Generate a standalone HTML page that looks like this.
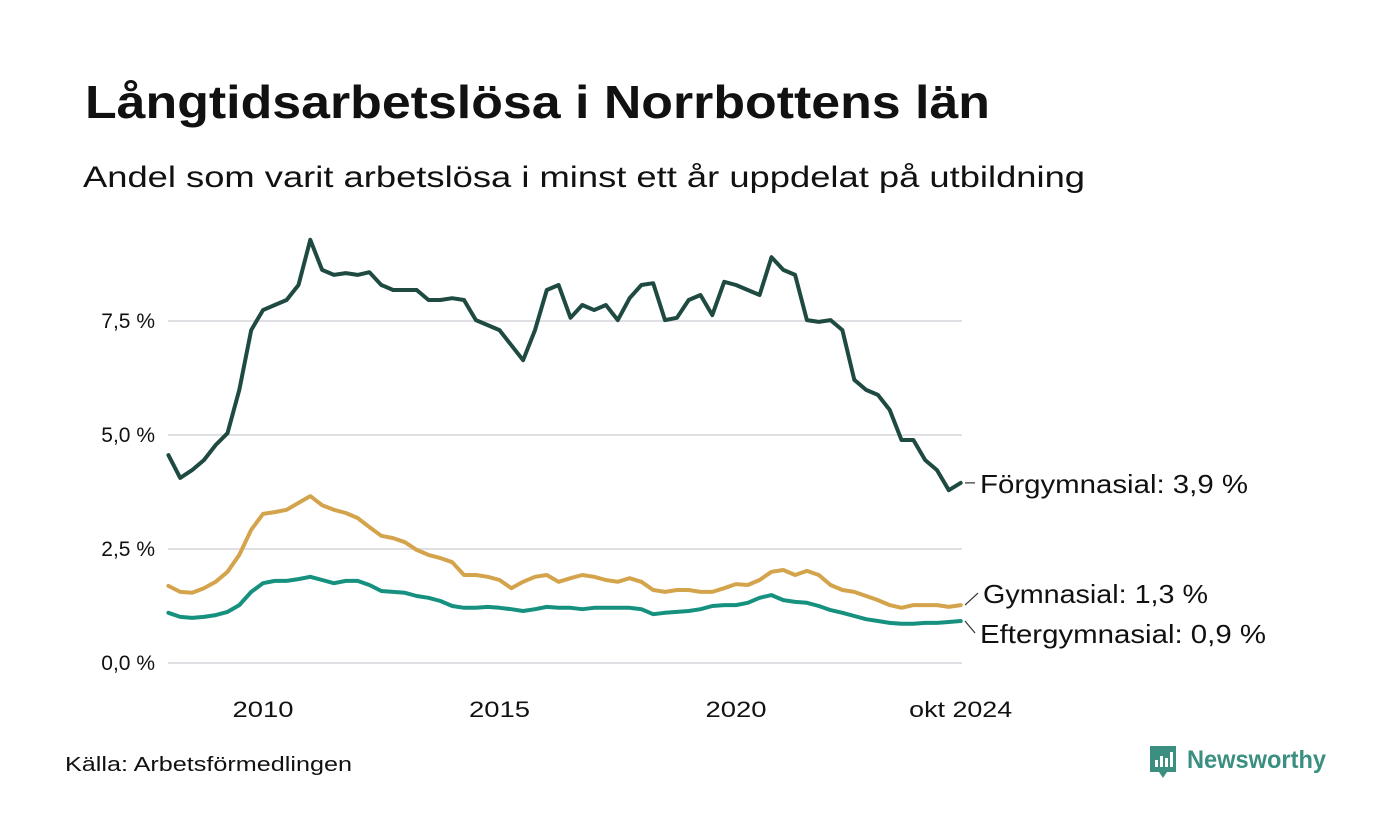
<!DOCTYPE html>
<html><head><meta charset="utf-8"><style>
html,body{margin:0;padding:0;background:#fff;}
svg{display:block;font-family:"Liberation Sans",sans-serif;}
</style></head><body>
<svg id="chart" width="1400" height="840" viewBox="0 0 1400 840" xmlns="http://www.w3.org/2000/svg">
<rect width="1400" height="840" fill="#fff"/>
<text x="85" y="118" font-size="46" font-weight="bold" fill="#111" textLength="905" lengthAdjust="spacingAndGlyphs">Långtidsarbetslösa i Norrbottens län</text>
<text x="83" y="187" font-size="30" fill="#111" textLength="1002" lengthAdjust="spacingAndGlyphs">Andel som varit arbetslösa i minst ett år uppdelat på utbildning</text>
<g id="grid"></g>
<g id="yaxis"></g>
<g id="xaxis"></g>
<g id="lines"></g>
<g id="labels"></g>
<text x="65" y="771" font-size="20" fill="#111" textLength="287" lengthAdjust="spacingAndGlyphs">Källa: Arbetsförmedlingen</text>
<g>
<path d="M1150 746 h26 v26 h-9 l-4 6 l-4 -6 h-9 z" fill="#3a8f80"/>
<rect x="1155" y="760" width="3" height="7" fill="#fff"/>
<rect x="1160" y="756" width="3" height="11" fill="#fff"/>
<rect x="1165" y="758" width="3" height="9" fill="#fff"/>
<rect x="1170" y="752" width="3" height="15" fill="#fff"/>
<text x="1187" y="768" font-size="25" font-weight="bold" fill="#3a8f80" textLength="139" lengthAdjust="spacingAndGlyphs">Newsworthy</text>
</g>
</svg>
<script>
const yTicks = [0, 2.5, 5, 7.5];
const yTickLabels = ["0,0 %", "2,5 %", "5,0 %", "7,5 %"];
const xTicks = [2010, 2015, 2020, 2024.75];
const xTickLabels = ["2010", "2015", "2020", "okt 2024"];
const seriesNames = ["Förgymnasial", "Gymnasial", "Eftergymnasial"];
const endLabels = ["Förgymnasial: 3,9 %", "Gymnasial: 1,3 %", "Eftergymnasial: 0,9 %"];
const forgymnasial = [4.56,4.06,4.23,4.45,4.78,5.04,5.99,7.30,7.74,7.85,7.96,8.29,9.28,8.62,8.51,8.55,8.51,8.57,8.29,8.18,8.18,8.18,7.96,7.96,8.00,7.96,7.52,7.41,7.30,6.97,6.64,7.30,8.18,8.29,7.57,7.85,7.74,7.85,7.52,8.00,8.29,8.33,7.52,7.57,7.96,8.07,7.63,8.36,8.29,8.18,8.07,8.90,8.62,8.51,7.52,7.48,7.52,7.30,6.21,5.99,5.88,5.55,4.89,4.89,4.45,4.23,3.79,3.95];
const gymnasial = [1.69,1.56,1.54,1.64,1.78,2.00,2.37,2.92,3.27,3.31,3.36,3.51,3.66,3.46,3.36,3.29,3.18,2.98,2.79,2.74,2.65,2.48,2.37,2.30,2.21,1.93,1.93,1.89,1.82,1.64,1.78,1.89,1.93,1.78,1.86,1.93,1.89,1.82,1.78,1.86,1.78,1.60,1.56,1.60,1.60,1.56,1.56,1.64,1.73,1.71,1.82,2.00,2.04,1.93,2.02,1.93,1.71,1.60,1.56,1.47,1.38,1.27,1.21,1.27,1.27,1.27,1.23,1.27];
const eftergymnasial = [1.10,1.01,0.99,1.01,1.05,1.12,1.27,1.56,1.75,1.80,1.80,1.84,1.89,1.82,1.75,1.80,1.80,1.71,1.58,1.56,1.54,1.47,1.43,1.36,1.25,1.21,1.21,1.23,1.21,1.18,1.14,1.18,1.23,1.21,1.21,1.18,1.21,1.21,1.21,1.21,1.18,1.07,1.10,1.12,1.14,1.18,1.25,1.27,1.27,1.32,1.43,1.49,1.38,1.34,1.32,1.25,1.16,1.10,1.03,0.96,0.92,0.88,0.86,0.86,0.88,0.88,0.90,0.92];
const startYear = 2008;

const NS = "http://www.w3.org/2000/svg";
const x0 = 263, pxPerYear = 47.3;
const xScale = t => x0 + (t - 2010) * pxPerYear;
const yScale = v => 663 - v * 45.6;
function dateAt(i, n) { return i === n - 1 ? 2024.75 : startYear + i * 0.25; }
function mk(tag, attrs, parent) {
  const e = document.createElementNS(NS, tag);
  for (const k in attrs) e.setAttribute(k, attrs[k]);
  parent.appendChild(e); return e;
}
const grid = document.getElementById('grid');
const yaxis = document.getElementById('yaxis');
yTicks.forEach((v, i) => {
  const l = mk('line', {x1: 168, x2: 962, y1: yScale(v), y2: yScale(v), stroke: '#e0dfe3', 'stroke-width': 2}, grid);
  
  
  const t = mk('text', {x: 155, y: yScale(v) + 7, 'font-size': 21, fill: '#111', 'text-anchor': 'end'}, yaxis);
  t.textContent = yTickLabels[i];
  
  
});
const xaxis = document.getElementById('xaxis');
const xLabelW = [61, 61, 61, 103];
xTicks.forEach((v, i) => {
  const t = mk('text', {x: xScale(v), y: 717, 'font-size': 22, fill: '#111', 'text-anchor': 'middle', textLength: xLabelW[i], lengthAdjust: 'spacingAndGlyphs'}, xaxis);
  t.textContent = xTickLabels[i];
  
  
});
const lines = document.getElementById('lines');
const colors = ['#1f4a42', '#d4a44c', '#16917f'];
[forgymnasial, gymnasial, eftergymnasial].forEach((s, k) => {
  const d = s.map((v, i) => (i ? 'L' : 'M') + xScale(dateAt(i, s.length)).toFixed(1) + ' ' + yScale(v).toFixed(1)).join(' ');
  const p = mk('path', {d: d, fill: 'none', stroke: colors[k], 'stroke-width': 4, 'stroke-linejoin': 'round', 'stroke-linecap': 'round'}, lines);
  
  
});
const labels = document.getElementById('labels');
const lastY = [forgymnasial, gymnasial, eftergymnasial].map(s => yScale(s[s.length - 1]));
const labelY = [lastY[0], lastY[1] - 12, lastY[2] + 12];
const labelX = [980, 983, 980];
const labelW = [268, 225, 286];
endLabels.forEach((txt, k) => {
  const c = mk('line', {x1: 965, y1: lastY[k], x2: labelX[k] - 5, y2: labelY[k], stroke: '#333', 'stroke-width': 1.2}, labels);
  
  
  const t = mk('text', {x: labelX[k], y: labelY[k] + 10, 'font-size': 26, fill: '#111', textLength: labelW[k], lengthAdjust: 'spacingAndGlyphs'}, labels);
  t.textContent = txt;
  
  
});
</script>
</body></html>
